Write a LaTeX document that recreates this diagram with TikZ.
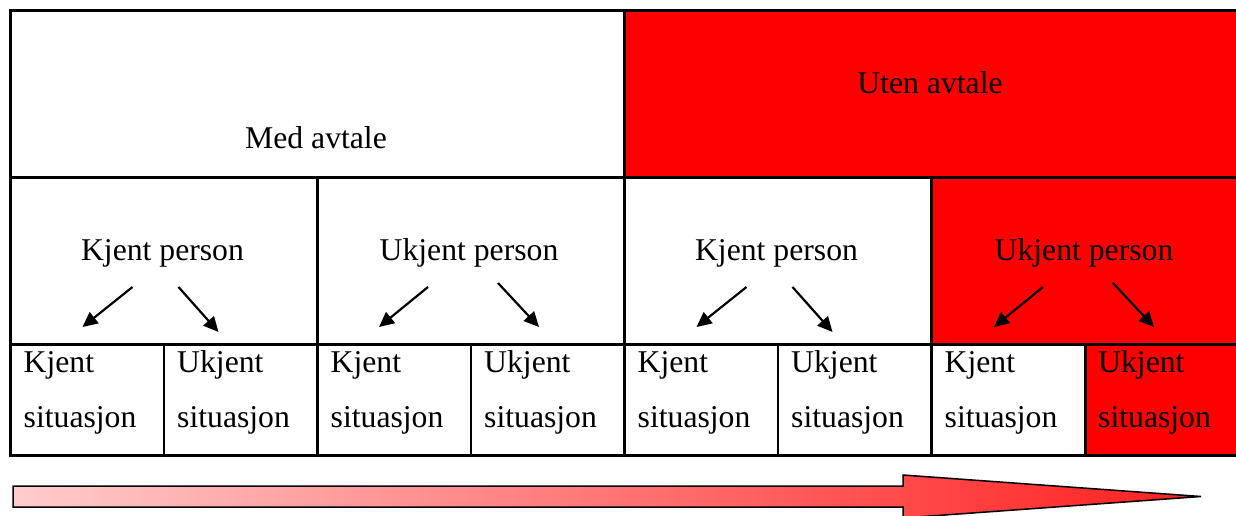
\documentclass[tikz,border=0pt]{standalone}
\usepackage{fontspec}
\setmainfont{Liberation Serif}
\usetikzlibrary{positioning,arrows.meta,calc}

\begin{document}
\begin{tikzpicture}[x=1pt, y=-1pt, >={Triangle[length=15pt,width=14pt]},
    cell/.style={draw, line width=2.5pt, inner sep=0pt, anchor=north west},
    hot/.style={cell, fill=red},
    txt/.style={font=\fontsize{31.7}{55}\selectfont, inner sep=0pt, anchor=base},
    sit/.style={txt, align=left, anchor=base west},
    pil/.style={->, line width=2.2pt}]

\useasboundingbox (0,0) rectangle (1236,515);

% top row
\node[cell, minimum width=614pt, minimum height=167pt] (med) at (9,9) {};
\node[hot, minimum width=615pt, minimum height=167pt] (uten) at (623,9) {};
\node[txt] (medtxt) at (316,148) {Med avtale};
\node[txt] (utentxt) at (930,93) {Uten avtale};

% persons
\node[cell, minimum width=307pt, minimum height=167pt] (kp1) at (9,176) {};
\node[cell, minimum width=307pt, minimum height=167pt] (up1) at (316,176) {};
\node[cell, minimum width=307pt, minimum height=167pt] (kp2) at (623,176) {};
\node[hot, minimum width=308pt, minimum height=167pt] (up2) at (930,176) {};
\node[txt] (p1) at (162.5,260) {Kjent person};
\node[txt] (p2) at (469,260) {Ukjent person};
\node[txt] (p3) at (776.5,260) {Kjent person};
\node[txt] (p4) at (1084,260) {Ukjent person};

% situations
\foreach \i/\nm in {0/s1,1/s2,2/s3,3/s4,4/s5,5/s6,6/s7}
  \node[cell, minimum width=153.5pt, minimum height=111pt] (\nm) at (9+\i*153.5,343) {};
\node[hot, minimum width=154pt, minimum height=111pt] (s8) at (1084,343) {};
\foreach \i in {0,2,4,6}
  \node[sit] (t\i) at (23.5+\i*153.5,427) {Kjent\\situasjon};
\foreach \i in {1,3,5,7}
  \node[sit] (t\i) at (23.5+\i*153.5,427) {Ukjent\\situasjon};

% arrows
\foreach \p in {p1,p3}{
  \draw[pil] ($(\p.base)+(-30,27)$) -- ($(\p.base)+(-80,67)$);
  \draw[pil] ($(\p.base)+(16,27)$) -- ($(\p.base)+(56,72)$);
}
\foreach \p in {p2,p4}{
  \draw[pil] ($(\p.base)+(-41,27)$) -- ($(\p.base)+(-90,67)$);
  \draw[pil] ($(\p.base)+(29,23)$) -- ($(\p.base)+(70,67)$);
}

% big arrow
\draw[line width=1.5pt, left color=red!20, right color=red!88]
  (13,486) -- (903,486) -- (903,475) -- (1201,496.5) -- (903,518)
  -- (903,507) -- (13,507) -- cycle;
\end{tikzpicture}
\end{document}
